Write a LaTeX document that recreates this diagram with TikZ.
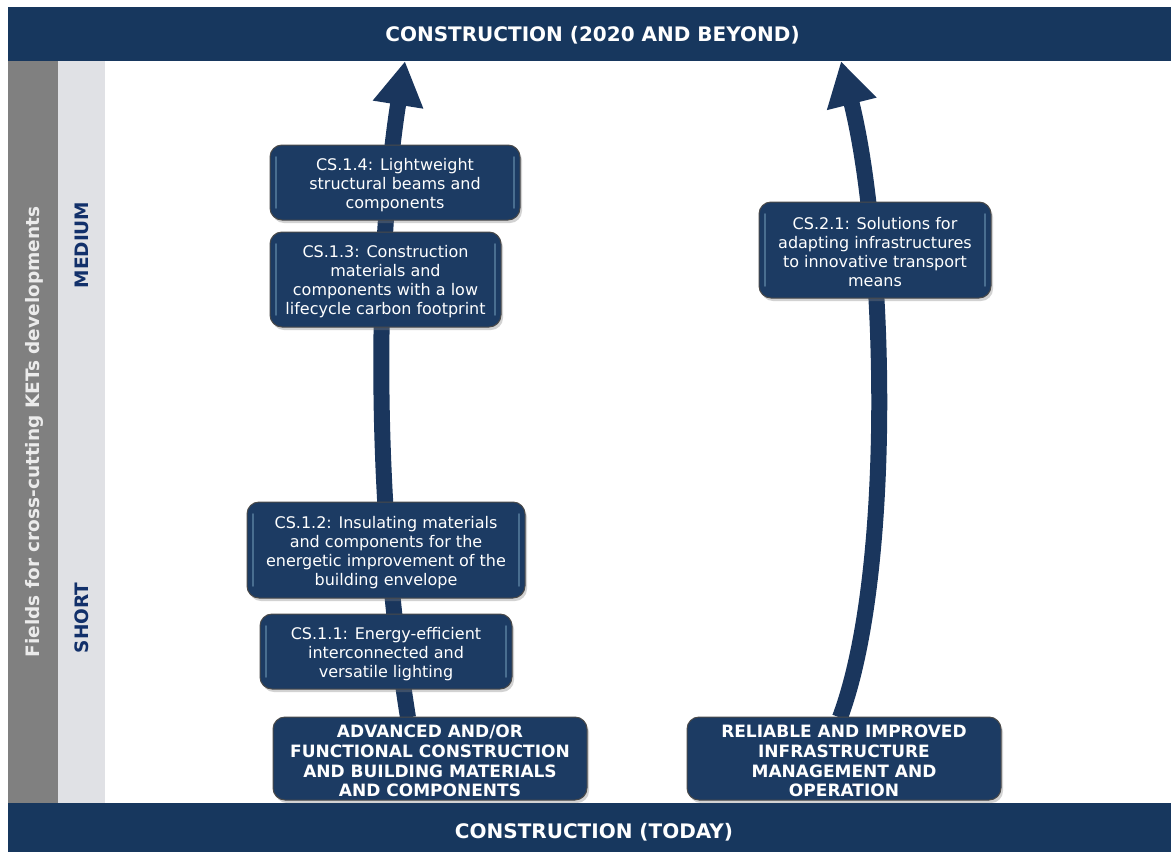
\documentclass[tikz,border=0pt]{standalone}
\usepackage{fontspec}
\setmainfont{DejaVu Sans}
\usetikzlibrary{arrows.meta,shadows}

\definecolor{navy}{HTML}{17375E}
\definecolor{boxnavy}{HTML}{1C3B63}
\definecolor{arrownavy}{HTML}{1A365D}
\definecolor{labelnavy}{HTML}{12306A}
\definecolor{sidegray}{HTML}{808080}
\definecolor{sidelight}{HTML}{E0E1E5}
\definecolor{boxedge}{HTML}{4A4A4A}

\pgfdeclarelayer{paper}
\pgfdeclarelayer{arrows}
\pgfsetlayers{paper,arrows,main}

\tikzset{
  bar/.style={fill=navy, inner sep=0pt},
  bartitle/.style={text=white, inner sep=0pt,
    font=\fontsize{20}{24}\selectfont\bfseries},
  sidetext/.style={rotate=90, inner sep=0pt,
    font=\fontsize{18.5}{22}\selectfont\bfseries},
  glossy/.style={
    path picture={
      \draw[white!70!cyan, opacity=0.3, line width=1.6pt, line cap=round]
        ([xshift=6pt,yshift=12pt]path picture bounding box.south west) --
        ([xshift=6pt,yshift=-12pt]path picture bounding box.north west);
      \draw[white!70!cyan, opacity=0.3, line width=1.6pt, line cap=round]
        ([xshift=-6pt,yshift=12pt]path picture bounding box.south east) --
        ([xshift=-6pt,yshift=-12pt]path picture bounding box.north east);
    }},
  boxbase/.style={draw=boxedge, line width=1pt, fill=boxnavy, rounded corners=12pt,
    inner sep=0pt,
    drop shadow={shadow xshift=2pt, shadow yshift=-3pt, opacity=0.35}},
  topic/.style={boxbase, glossy},
  field/.style={boxbase},
  topictext/.style={text=white, align=center, inner sep=0pt,
    font=\fontsize{16}{19}\selectfont},
  fieldtext/.style={text=white, align=center, inner sep=0pt,
    font=\fontsize{17}{19.7}\selectfont\bfseries},
  bigarrow/.style={draw=arrownavy, line width=16pt,
    -{Triangle[length=44pt, width=48pt, fill=arrownavy]}},
}

\begin{document}
\begin{tikzpicture}[x=1pt, y=-1pt]
  \useasboundingbox (0,0) rectangle (1171,852);
  \begin{pgfonlayer}{paper}
    \fill[white] (0,0) rectangle (1171,852);
  \end{pgfonlayer}

  % side columns
  \fill[sidegray] (8,61) rectangle (58,803);
  \fill[sidelight] (58,61) rectangle (105,803);
  \node[sidetext, text=white!92!black] (kets) at (34,432)
    {Fields for cross-cutting KETs developments};
  \node[sidetext, text=labelnavy] (medium) at (81.5,245) {MEDIUM};
  \node[sidetext, text=labelnavy] (short) at (81.5,618) {SHORT};

  % top and bottom bars
  \node[bar, minimum width=1163pt, minimum height=54pt] (top) at (589.5,34) {};
  \node[bartitle] (toptitle) at (592.5,35) {CONSTRUCTION (2020 AND BEYOND)};
  \node[bar, minimum width=1163pt, minimum height=49pt] (bottom) at (589.5,827.5) {};
  \node[bartitle] (bottomtitle) at (594,832) {CONSTRUCTION (TODAY)};

  % starting fields
  \node[field, minimum width=314pt, minimum height=83pt] (adv) at (430,758.5) {};
  \node[fieldtext] at ([yshift=-2.5pt]adv.center)
    {ADVANCED AND/OR\\FUNCTIONAL CONSTRUCTION\\AND BUILDING MATERIALS\\AND COMPONENTS};
  \node[field, minimum width=314pt, minimum height=83pt] (rel) at (844,758.5) {};
  \node[fieldtext] at ([yshift=-2.5pt]rel.center)
    {RELIABLE AND IMPROVED\\INFRASTRUCTURE\\MANAGEMENT AND\\OPERATION};

  % research topics along the arrows
  \node[topic, minimum width=250pt, minimum height=75pt] (cs14) at (395,182.5) {};
  \node[topictext] at ([yshift=-2.5pt]cs14.center)
    {CS.1.4: Lightweight\\structural beams and\\components};
  \node[topic, minimum width=231pt, minimum height=95pt] (cs13) at (385.5,279.5) {};
  \node[topictext] at ([yshift=-2.5pt]cs13.center)
    {CS.1.3: Construction\\materials and\\components with a low\\lifecycle carbon footprint};
  \node[topic, minimum width=278pt, minimum height=96pt] (cs12) at (386,550) {};
  \node[topictext] at ([yshift=-2.5pt]cs12.center)
    {CS.1.2: Insulating materials\\and components for the\\energetic improvement of the\\building envelope};
  \node[topic, minimum width=252pt, minimum height=75pt] (cs11) at (386,651.5) {};
  \node[topictext] at ([yshift=-2.5pt]cs11.center)
    {CS.1.1: Energy-efficient\\interconnected and\\versatile lighting};
  \node[topic, minimum width=232pt, minimum height=96pt] (cs21) at (875,250) {};
  \node[topictext] at ([yshift=-2.5pt]cs21.center)
    {CS.2.1: Solutions for\\adapting infrastructures\\to innovative transport\\means};

  % development arrows, kept behind the boxes
  \begin{pgfonlayer}{arrows}
    \draw[bigarrow] ([xshift=-22pt,yshift=-1pt]adv.north)
      .. controls (370,480) and (378,230) .. ([xshift=-184.5pt]top.south);
    \draw[bigarrow] ([xshift=-4pt,yshift=-1pt]rel.north)
      .. controls (895,570) and (886,240) .. ([xshift=251.5pt]top.south);
  \end{pgfonlayer}
\end{tikzpicture}
\end{document}
